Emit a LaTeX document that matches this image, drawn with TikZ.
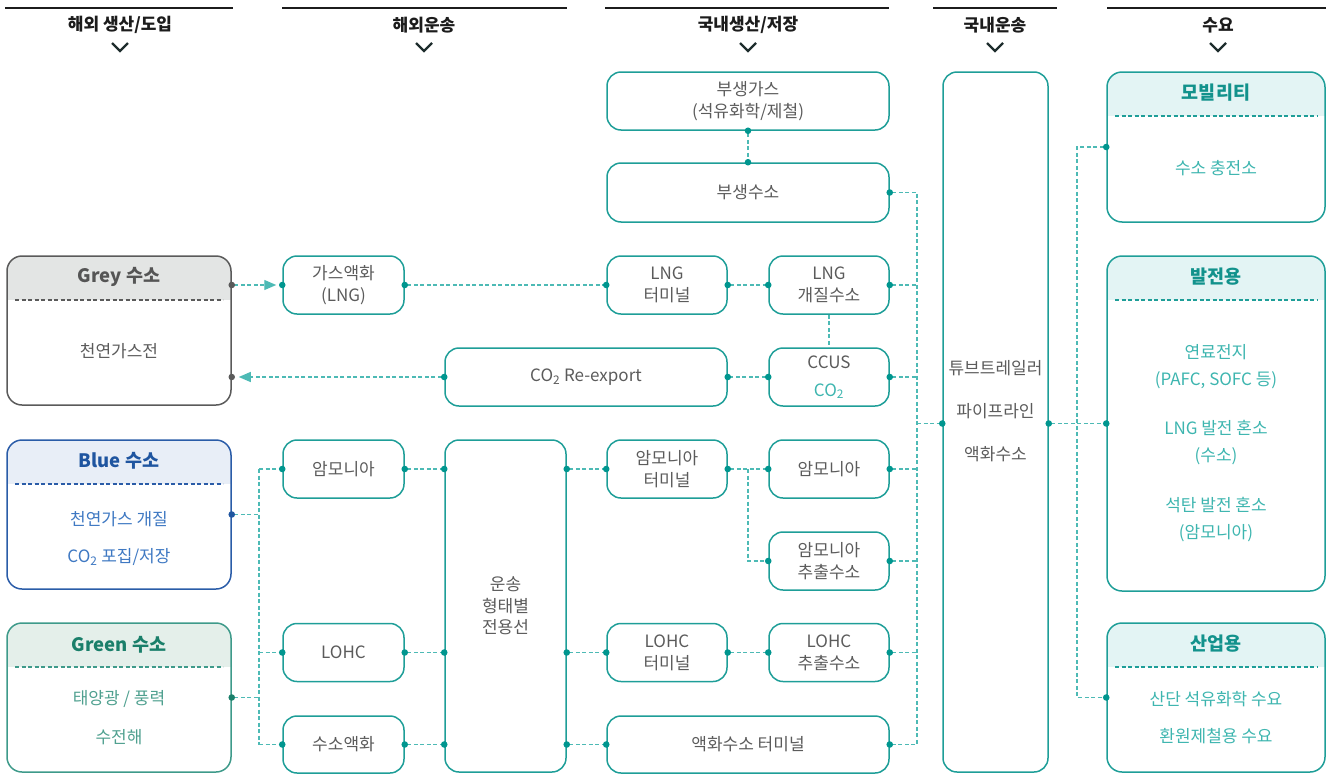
\documentclass[tikz,border=0pt]{standalone}
\usepackage{fontspec}
\setmainfont{Noto Sans CJK KR}
\usepackage{tikz}
\usetikzlibrary{arrows.meta}
\usetikzlibrary{calc}

\definecolor{tealB}{HTML}{1E9E98}
\definecolor{dotC}{HTML}{00968F}
\definecolor{lineC}{HTML}{4DBAB5}
\definecolor{bodyT}{HTML}{5B5B5B}
\definecolor{headT}{HTML}{1C1C1C}
\definecolor{chevC}{HTML}{1E2D2D}
\definecolor{greyB}{HTML}{5A5A5A}
\definecolor{greyF}{HTML}{E3E5E4}
\definecolor{greyT}{HTML}{555555}
\definecolor{blueB}{HTML}{2A5CA8}
\definecolor{blueF}{HTML}{E8EEF7}
\definecolor{blueT}{HTML}{1F55A0}
\definecolor{blueX}{HTML}{3E78C2}
\definecolor{greenB}{HTML}{3E9A8A}
\definecolor{greenF}{HTML}{E4EFEA}
\definecolor{greenT}{HTML}{1A7F6A}
\definecolor{greenX}{HTML}{4FA08F}
\definecolor{tealF}{HTML}{E3F4F4}
\definecolor{tealT}{HTML}{12928C}
\definecolor{tealX}{HTML}{3DB5AF}

\begin{document}
\begin{tikzpicture}[x=1pt,y=-1pt,
	box/.style={draw=tealB, line width=1.5pt, rounded corners=14pt, align=center,
		text=bodyT, font=\fontsize{17}{22}\selectfont, inner sep=0pt},
	bigbox/.style={draw=#1, line width=1.5pt, rounded corners=15pt, inner sep=0pt},
	titled/.style 2 args={path picture={
		\fill[#1, sharp corners] (path picture bounding box.north west) rectangle ([yshift=-44pt]path picture bounding box.north east);
		\draw[#2, sharp corners, line width=1.2pt, dash pattern=on 4pt off 2.5pt]
			([xshift=8pt,yshift=-44pt]path picture bounding box.north west) -- ([xshift=-8pt,yshift=-44pt]path picture bounding box.north east);}},
	head/.style={font=\bfseries\fontsize{17}{19}\selectfont, text=headT},
	ttl/.style={font=\bfseries\fontsize{18.5}{20}\selectfont},
	body/.style={align=center, font=\fontsize{17}{22}\selectfont},
	hline/.style={draw=headT, line width=1.3pt},
	chev/.style={draw=chevC, line width=2.2pt},
	wire/.style={draw=lineC, line width=1.2pt, dash pattern=on 4pt off 2.5pt},
	dd/.style={wire, {Circle[length=6.5pt,color=dotC]}-{Circle[length=6.5pt,color=dotC]},
		shorten <=-3.25pt, shorten >=-3.25pt},
	dstart/.style={wire, {Circle[length=6.5pt,color=#1]}-, shorten <=-3.25pt},
	dstart/.default=dotC,
	dend/.style={wire, -{Circle[length=6.5pt,color=dotC]}, shorten >=-3.25pt}]

\useasboundingbox (0,0) rectangle (1326,774);

% column heads
\foreach \a/\b in {5/233,282/567,605/889,933/1057,1107/1326}
	\draw[hline] (\a,8) -- (\b,8);
\node[head] (hprod) at (120,25) {해외 생산/도입};
\node[head] (hship) at (424,25) {해외운송};
\node[head] (hdom) at (748,25) {국내생산/저장};
\node[head] (hdtr) at (995,25) {국내운송};
\node[head] (hdem) at (1218,25) {수요};
\foreach \h in {hprod,hship,hdom,hdtr,hdem}
	\draw[chev] (\h) ++(-8,18) -- ++(8,8) -- ++(8,-8);

% overseas production
\node[bigbox=greyB, titled={greyF}{greyB}, minimum width=224pt, minimum height=149pt] (greyb) at (119,330.5) {};
\node[ttl, text=greyT] (greyt) at (119,277) {Grey 수소};
\node[body, text=bodyT] (greyx) at (119,351) {천연가스전};

\node[bigbox=blueB, titled={blueF}{blueB}, minimum width=224pt, minimum height=149pt] (blueb) at (119,514.5) {};
\node[ttl, text=blueT] (bluet) at (119,461) {Blue 수소};
\node[body, text=blueX, font=\fontsize{17}{37}\selectfont] (bluex) at (119,538.5) {천연가스 개질\\CO\textsubscript{2} 포집/저장};

\node[bigbox=greenB, titled={greenF}{greenB}, minimum width=224pt, minimum height=149pt] (greenb) at (119,697.5) {};
\node[ttl, text=greenT] (greent) at (119,645) {Green 수소};
\node[body, text=greenX, font=\fontsize{17}{39}\selectfont] (greenx) at (119,717.5) {태양광 / 풍력\\수전해};

% overseas shipping
\node[box, minimum width=121pt, minimum height=58pt] (lnga) at (343.5,285) {가스액화\\(LNG)};
\node[box, minimum width=121pt, minimum height=58pt] (ama) at (343.5,469) {암모니아};
\node[box, minimum width=121pt, minimum height=58pt] (lohc) at (343.5,652.5) {LOHC};
\node[box, minimum width=121pt, minimum height=57pt] (liq) at (343.5,744.5) {수소액화};
\node[box, minimum width=121pt, minimum height=332pt, font=\fontsize{17}{21.5}\selectfont] (ship) at (505.5,606) {운송\\형태별\\전용선};
\node[box, minimum width=282pt, minimum height=58pt] (co2r) at (586,377) {CO\textsubscript{2} Re-export};

% domestic production / storage
\node[box, minimum width=282pt, minimum height=58pt] (bgas) at (748,101) {부생가스\\(석유화학/제철)};
\node[box, minimum width=282pt, minimum height=59pt] (bh2) at (748,192.5) {부생수소};
\node[box, minimum width=120pt, minimum height=58pt] (lngt) at (667,285) {LNG\\터미널};
\node[box, minimum width=120pt, minimum height=58pt] (lngr) at (829,285) {LNG\\개질수소};
\node[box, minimum width=120pt, minimum height=58pt] (ccus) at (829,377) {CCUS\\[6pt]\textcolor{tealX}{CO\textsubscript{2}}};
\node[box, minimum width=120pt, minimum height=58pt] (amt) at (667,469) {암모니아\\터미널};
\node[box, minimum width=120pt, minimum height=58pt] (amd) at (829,469) {암모니아};
\node[box, minimum width=120pt, minimum height=58pt] (amx) at (829,561) {암모니아\\추출수소};
\node[box, minimum width=120pt, minimum height=58pt] (lot) at (667,652.5) {LOHC\\터미널};
\node[box, minimum width=120pt, minimum height=58pt] (lox) at (829,652.5) {LOHC\\추출수소};
\node[box, minimum width=282pt, minimum height=57pt] (liqt) at (748,744.5) {액화수소 터미널};

% domestic transport
\node[box, minimum width=105pt, minimum height=700pt] (pipe) at (995.5,422) {};
\node[body, text=bodyT, font=\fontsize{17}{43}\selectfont] (pipet) at (995.5,411) {튜브트레일러\\파이프라인\\액화수소};

% demand
\node[bigbox=tealB, titled={tealF}{tealB}, minimum width=218pt, minimum height=150pt] (mob) at (1216,147) {};
\node[ttl, text=tealT] (mobt) at (1216,93) {모빌리티};
\node[body, text=tealX] (mobx) at (1216,168) {수소 충전소};

\node[bigbox=tealB, titled={tealF}{tealB}, minimum width=218pt, minimum height=335pt] (pow) at (1216,423.5) {};
\node[ttl, text=tealT] (powt) at (1216,277) {발전용};
\node[body, text=tealX, font=\fontsize{17}{27}\selectfont] (powx) at (1216,443.5) {연료전지\\(PAFC, SOFC 등)\\[22pt]LNG 발전 혼소\\(수소)\\[23pt]석탄 발전 혼소\\(암모니아)};

\node[bigbox=tealB, titled={tealF}{tealB}, minimum width=218pt, minimum height=149pt] (ind) at (1216,697.5) {};
\node[ttl, text=tealT] (indt) at (1216,644) {산업용};
\node[body, text=tealX, font=\fontsize{17}{37}\selectfont] (indx) at (1216,717.5) {산단 석유화학 수요\\환원제철용 수요};

% connectors
\coordinate (busl) at (259,600);
\coordinate (busr) at (917,423.5);
\coordinate (busd) at (1077,423.5);

\draw[wire, {Circle[length=6.5pt,color=greyB]}-{Triangle[length=12pt,width=10pt,color=lineC]},
	shorten <=-3.25pt, shorten >=6pt] (greyb.east |- lnga) -- (lnga.west);
\fill[dotC] (lnga.west) circle (3.25pt);
\draw[dd] (lnga.east) -- (lngt.west);
\draw[dd] (lngt.east) -- (lngr.west);
\draw[wire] (lngr.south) -- (ccus.north);
\draw[dd] (ccus.west) -- (co2r.east);
\draw[wire, {Circle[length=6.5pt,color=dotC]}-{Triangle[length=12pt,width=10pt,color=lineC]},
	shorten <=-3.25pt, shorten >=7pt] (co2r.west) -- (greyb.east |- co2r);
\fill[greyB] (greyb.east |- co2r) circle (3.25pt);
\draw[dd] (bgas.south) -- (bh2.north);

\draw[wire] (ama.west -| busl) -- (liq.west -| busl);
\draw[dstart=blueT] (blueb.east) -- (blueb.east -| busl);
\draw[dstart=greenT] (greenb.east) -- (greenb.east -| busl);
\foreach \n in {ama,lohc,liq}{
	\draw[dend] (\n.west -| busl) -- (\n.west);
	\draw[dd] (\n.east) -- (ship.west |- \n.east);
}
\foreach \n in {amt,lot,liqt}
	\draw[dd] (ship.east |- \n.west) -- (\n.west);
\draw[dd] (amt.east) -- (amd.west);
\draw[dend] ($(amt.east)!.5!(amd.west)$) |- (amx.west);
\draw[dd] (lot.east) -- (lox.west);

\draw[dd] (bh2.east) -- (bh2.east -| busr) -- (liqt.east -| busr) -- (liqt.east);
\foreach \n in {lngr,ccus,amd,amx,lox}
	\draw[dstart] (\n.east) -- (\n.east -| busr);
\draw[dend] (busr) -- (pipe.west |- busr);
\draw[dd] (pipe.east |- busr) -- (pow.west);
\draw[dd] (mob.west) -- (mob.west -| busd) -- (ind.west -| busd) -- (ind.west);
\end{tikzpicture}
\end{document}
